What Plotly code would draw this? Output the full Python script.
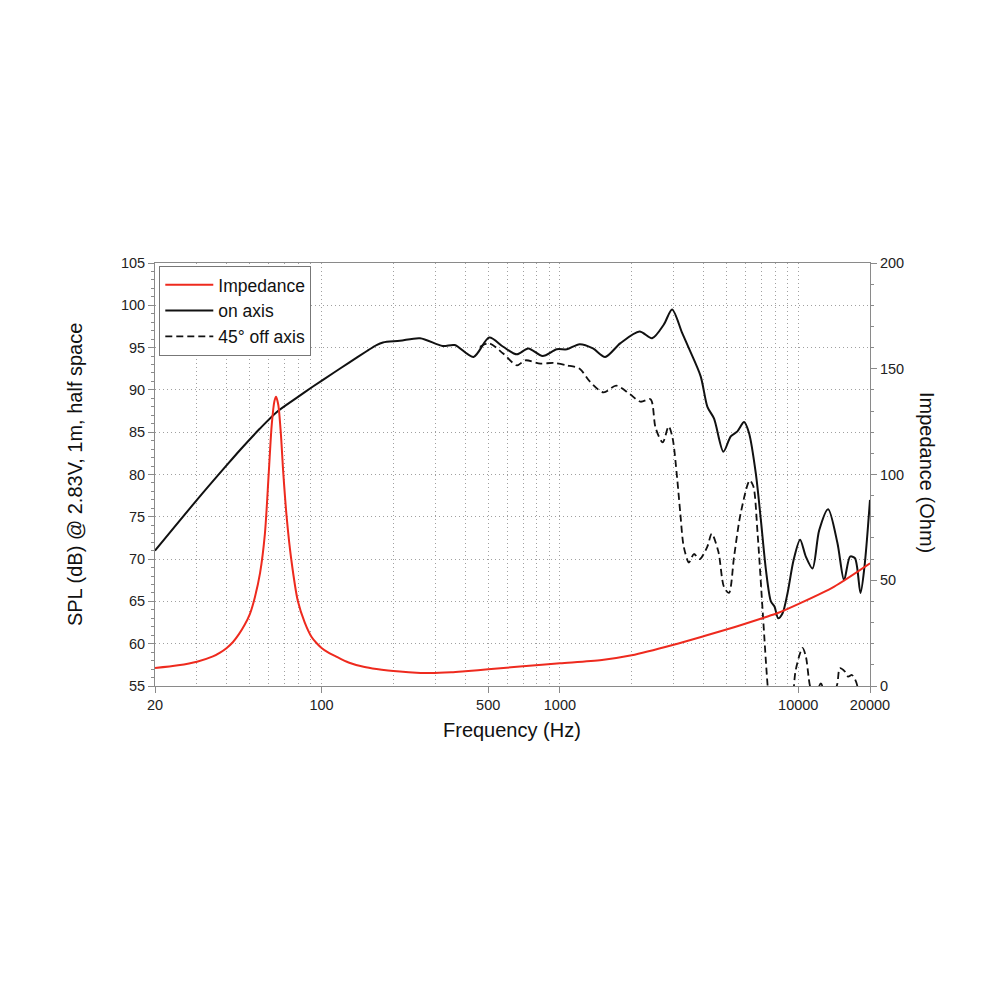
import plotly.graph_objects as go

# ---------------- data ----------------
imp_freq = [20, 25, 30, 35, 37.5, 40, 42.5, 45, 47.5, 50, 52.5, 55.2, 57.8, 60, 61.8, 63.4, 64.4, 65.8, 67.5,
            69.1, 71.4, 74.5, 79.5, 85, 90.8, 95.4, 100, 106, 113.8, 122, 131.6, 150, 170, 190, 213, 250, 286,
            350, 400, 500, 700, 1000, 1500, 2000, 3000, 4000, 5380, 7160, 8200, 10200, 14100, 20000]
imp_ohm = [8.5, 9.8, 11.5, 14.0, 15.8, 18.0, 20.8, 24.5, 28.8, 34.0, 42.0, 53.5, 71.7, 100.4, 123.7, 134.7,
           136.8, 133, 119, 100.4, 79.6, 60.4, 40.2, 30.0, 23.2, 20.2, 18.0, 16.0, 14.2, 12.5, 10.9, 9.1, 8.0,
           7.3, 6.8, 6.3, 6.1, 6.5, 7.0, 7.9, 9.3, 10.7, 12.3, 14.5, 19.5, 23.5, 27.8, 32.3, 34.5, 39.2, 46.9,
           58]

on_freq = [20, 30, 40, 45.5, 55, 64.9, 78, 92, 112, 130, 155, 170, 181, 213, 259, 322, 362, 434, 505, 578, 660,
           737, 846, 970, 1070, 1210, 1376, 1548, 1790, 2158, 2436, 2726, 2956, 3260, 3478, 3896, 4158, 4434,
           4852, 5208, 5556, 5926, 6214, 6638, 6970, 7320, 7680, 7950, 8236, 8594, 9020, 9560, 10180, 10760,
           11480, 12240, 13350, 14600, 15570, 16500, 17300, 18240, 18960, 20000]
on_db = [71.0, 77.0, 81.1, 82.9, 85.4, 87.4, 89.0, 90.4, 92.0, 93.2, 94.6, 95.3, 95.6, 95.8, 96.1, 95.2, 95.3,
         93.9, 96.2, 95.1, 94.2, 94.9, 94.0, 94.8, 94.8, 95.4, 94.9, 93.9, 95.5, 96.9, 96.1, 97.7, 99.5, 96.7,
         94.9, 91.6, 88.0, 86.6, 82.7, 84.5, 85.1, 86.2, 84.9, 80.1, 74.6, 68.7, 65.0, 64.4, 63.0, 63.6, 66.0,
         69.9, 72.3, 70.3, 68.9, 73.4, 75.9, 71.9, 67.5, 70.3, 70.1, 66.0, 69.1, 77.0]

off_freq = [462, 505, 578, 660, 716, 828, 940, 1070, 1210, 1334, 1524, 1722, 1966, 2180, 2400, 2520, 2700, 2860,
            2970, 3100, 3200, 3306, 3478, 3648, 3860, 4158, 4332, 4620, 4880, 5120, 5380, 5732, 6258, 6480,
            6752, 7100, 7440, 7800, 8500, 9200, 9560, 9760, 10420, 10760, 11200, 11700, 12440, 13200, 14500,
            14940, 15700, 16200, 16800, 17370, 17700, 18300]
off_db = [95.1, 95.5, 94.3, 92.9, 93.5, 93.1, 93.2, 92.9, 92.5, 91.0, 89.7, 90.5, 89.5, 88.6, 88.9, 85.5, 83.8,
          85.7, 84.3, 79.7, 75.4, 71.5, 69.6, 70.6, 70.0, 71.5, 73.0, 70.9, 66.7, 66.0, 70.3, 75.4, 79.3, 78.6,
          73.0, 63.6, 55.0, 49, 47, 49, 54.5, 56.9, 59.5, 58.5, 55.0, 53.5, 55.3, 53.5, 55.0, 57.1, 56.7, 56.1,
          56.3, 55.7, 55.0, 52]

x_tickvals = [20, 100, 500, 1000, 10000, 20000]
x_ticktext = ["20", "100", "500", "1000", "10000", "20000"]
x_gridvals = [30, 40, 50, 60, 70, 80, 90, 200, 300, 400, 600, 700, 800, 900,
              2000, 3000, 4000, 5000, 6000, 7000, 8000, 9000]

FONT = "Liberation Sans, Arial, Helvetica, sans-serif"
AXC = "#8a8a8a"
GRIDC = "#a0a0a0"

fig = go.Figure()
fig.add_trace(go.Scatter(x=imp_freq, y=imp_ohm, name="Impedance", yaxis="y2", mode="lines",
                         line=dict(color="#ee2a1e", width=2, shape="spline", smoothing=0.8)))
fig.add_trace(go.Scatter(x=on_freq, y=on_db, name="on axis", mode="lines",
                         line=dict(color="#111111", width=2, shape="spline", smoothing=0.8)))
fig.add_trace(go.Scatter(x=off_freq, y=off_db, name="45° off axis", mode="lines",
                         line=dict(color="#111111", width=1.8, dash="7px,4px", shape="spline", smoothing=0.8)))

fig.update_layout(
    width=1000, height=1000,
    margin=dict(l=155, r=130, t=263, b=314),
    paper_bgcolor="white", plot_bgcolor="white",
    font=dict(family=FONT, size=14.5, color="#222222"),
    showlegend=True,
    legend=dict(x=0.006, y=0.993, xanchor="left", yanchor="top", bgcolor="white",
                bordercolor="#777777", borderwidth=1, font=dict(size=17.5, color="#111111"),
                itemwidth=48, tracegroupgap=0),
    xaxis=dict(type="log", range=[1.30103, 4.30103], tickmode="array", tickvals=x_tickvals,
               ticktext=x_ticktext, ticks="outside", ticklen=6, tickcolor=AXC, showline=True,
               linecolor=AXC, linewidth=1, mirror=True, showgrid=True, gridcolor=GRIDC,
               griddash="1px,3px", gridwidth=1, zeroline=False,
               minor=dict(tickmode="array", tickvals=x_gridvals, showgrid=True, gridcolor=GRIDC,
                          griddash="1px,3px", gridwidth=1, ticks="")),
    yaxis=dict(range=[55, 105], tickmode="linear", tick0=55, dtick=5, ticks="outside", ticklen=6,
               tickcolor=AXC, showline=True, linecolor=AXC, linewidth=1, showgrid=True,
               gridcolor=GRIDC, griddash="1px,3px", gridwidth=1, zeroline=False,
               minor=dict(dtick=1, tick0=55, ticks="outside", ticklen=3, tickcolor=AXC, showgrid=False)),
    yaxis2=dict(range=[0, 200], overlaying="y", side="right", tickmode="array",
                tickvals=[0, 50, 100, 150, 200], ticks="outside", ticklen=6, tickcolor=AXC,
                showline=True, linecolor=AXC, linewidth=1, showgrid=False, zeroline=False,
                minor=dict(dtick=10, tick0=0, ticks="outside", ticklen=3, tickcolor=AXC, showgrid=False)),
    annotations=[
        dict(text="Frequency (Hz)", xref="paper", yref="paper", x=0.4993, y=-0.104,
             xanchor="center", yanchor="middle", showarrow=False, font=dict(size=20, color="#111111")),
        dict(text="SPL (dB) @ 2.83V, 1m, half space", xref="paper", yref="paper", x=-0.1119, y=0.501,
             xanchor="center", yanchor="middle", textangle=-90, showarrow=False,
             font=dict(size=20, color="#111111")),
        dict(text="Impedance (Ohm)", xref="paper", yref="paper", x=1.0797, y=0.5035,
             xanchor="center", yanchor="middle", textangle=90, showarrow=False,
             font=dict(size=20, color="#111111")),
    ],
)

fig.write_html("out.html")
